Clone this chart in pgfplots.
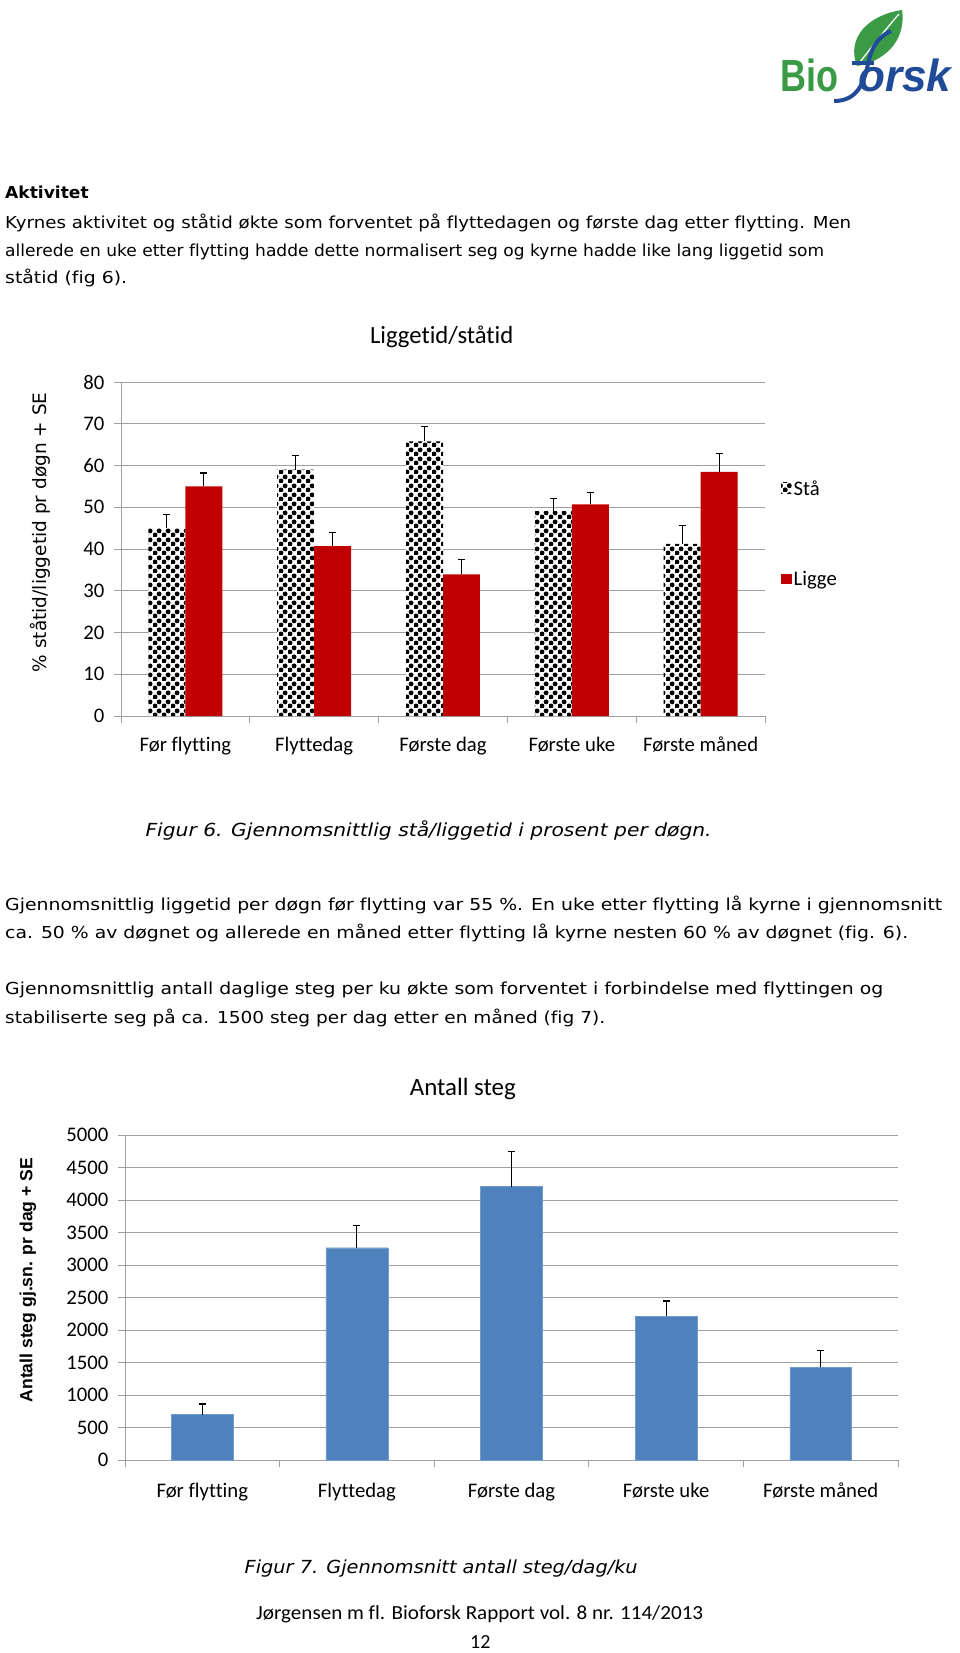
\documentclass[border=0pt]{standalone}
\usepackage{graphicx}
\usepackage{fontspec}
\setmainfont{Carlito}[Ligatures={NoCommon,NoContextual}]
\newfontfamily\dejavu{DejaVu Sans}[Ligatures={NoCommon,NoContextual}]
\newfontfamily\libsans{Liberation Sans}[Ligatures={NoCommon,NoContextual}]
\usepackage{pgfplots}
\pgfplotsset{compat=1.18}
\usetikzlibrary{patterns.meta}
\definecolor{ligge}{HTML}{C00000}
\definecolor{steg}{HTML}{4F81BD}
\definecolor{gridc}{HTML}{A0A0A0}
\definecolor{biogreen}{HTML}{3A9A45}
\definecolor{bioblue}{HTML}{1F4B99}
\tikzdeclarepattern{
  name=stadots, type=uncolored,
  bounding box={(0pt,0pt) and (9pt,9pt)},
  tile size={(9pt,9pt)},
  code={\fill (2.25pt,2.25pt) circle (2.7pt); \fill (6.75pt,6.75pt) circle (2.7pt);}
}
\newcommand{\body}{\dejavu\fontsize{16.5}{20}\selectfont}
% fit a line of text to a given width (in px = pt) by horizontal scaling
\newcommand{\fitw}[2]{\setbox0\hbox{#2}\pgfmathsetmacro\fitsc{#1/\the\wd0}\scalebox{\fitsc}[1]{\box0}}
\begin{document}
\begin{tikzpicture}
\path[use as bounding box] (0,0) rectangle (960pt,-1653pt);
% ---- logo ----
\fill[biogreen] (857pt,-66pt) .. controls (846pt,-38pt) and (868pt,-15pt) .. (902pt,-10pt)
   .. controls (906pt,-36pt) and (890pt,-60pt) .. (857pt,-66pt) -- cycle;
\draw[white, line width=1.3pt] (860pt,-62pt) .. controls (874pt,-44pt) and (886pt,-29pt) .. (899pt,-14pt);
\draw[bioblue, line width=4pt] (834pt,-101pt) .. controls (858pt,-101pt) and (864pt,-82pt) .. (868pt,-64pt)
   .. controls (872pt,-46pt) and (878pt,-37pt) .. (891pt,-31pt);
\draw[bioblue, line width=3.5pt] (852pt,-63pt) -- (874pt,-63pt);
\node[anchor=base west, inner sep=0, xscale=0.8, font=\libsans\bfseries\fontsize{45}{45}\selectfont, text=biogreen] at (780pt,-92pt) {Bio};
\node[anchor=base west, inner sep=0, xscale=0.98, font=\libsans\bfseries\itshape\fontsize{45}{45}\selectfont, text=bioblue] at (858pt,-92pt) {orsk};
% ---- text ----
\node[anchor=base west, inner sep=0, font=\body\bfseries] at (5pt,-199pt) {\fitw{83.5}{Aktivitet}};
\node[anchor=base west, inner sep=0, font=\body] at (5pt,-229pt) {\fitw{846}{Kyrnes aktivitet og ståtid økte som forventet på flyttedagen og første dag etter flytting. Men}};
\node[anchor=base west, inner sep=0, font=\body] at (5pt,-256pt) {\fitw{819}{allerede en uke etter flytting hadde dette normalisert seg og kyrne hadde like lang liggetid som}};
\node[anchor=base west, inner sep=0, font=\body] at (5pt,-283pt) {\fitw{122}{ståtid (fig 6).}};
\node[anchor=base west, inner sep=0, font=\dejavu\itshape\fontsize{18}{20}\selectfont] at (145.4pt,-836pt) {\fitw{566}{Figur 6. Gjennomsnittlig stå/liggetid i prosent per døgn.}};
\node[anchor=base west, inner sep=0, font=\body] at (5pt,-910pt) {\fitw{937}{Gjennomsnittlig liggetid per døgn før flytting var 55 \%. En uke etter flytting lå kyrne i gjennomsnitt}};
\node[anchor=base west, inner sep=0, font=\body] at (5pt,-938pt) {\fitw{903}{ca. 50 \% av døgnet og allerede en måned etter flytting lå kyrne nesten 60 \% av døgnet (fig. 6).}};
\node[anchor=base west, inner sep=0, font=\body] at (5pt,-994pt) {\fitw{878}{Gjennomsnittlig antall daglige steg per ku økte som forventet i forbindelse med flyttingen og}};
\node[anchor=base west, inner sep=0, font=\body] at (5pt,-1023pt) {\fitw{600}{stabiliserte seg på ca. 1500 steg per dag etter en måned (fig 7).}};
\node[anchor=base west, inner sep=0, font=\dejavu\itshape\fontsize{18}{20}\selectfont] at (244.5pt,-1573pt) {\fitw{393}{Figur 7. Gjennomsnitt antall steg/dag/ku}};
\node[anchor=base west, inner sep=0, font=\fontsize{20}{22}\selectfont] at (256pt,-1619pt) {\fitw{447}{Jørgensen m fl. Bioforsk Rapport vol. 8 nr. 114/2013}};
\node[anchor=base west, inner sep=0, font=\fontsize{20}{22}\selectfont] at (470pt,-1648pt) {12};
% ---- chart 1 ----
\begin{axis}[
  at={(121pt,-716pt)}, anchor=south west, scale only axis,
  width=644pt, height=334pt,
  xmin=-0.5, xmax=4.5, ymin=0, ymax=80, enlargelimits=false,
  axis lines=left, axis line style={gridc, line width=0.8pt, -},
  ytick={0,10,...,80}, ymajorgrids, grid style={gridc, line width=0.9pt},
  xtick={-0.5,0.5,1.5,2.5,3.5,4.5},
  xticklabels={Før flytting,Flyttedag,Første dag,Første uke,Første måned,{}},
  xticklabel style={xshift=64.4pt, yshift=-10pt, text height=15pt, text depth=5pt},
  yticklabel style={xshift=-6pt},
  tick align=outside, major tick length=7pt, tick style={gridc, line width=0.8pt},
  ticklabel style={font=\fontsize{20.7}{24}\selectfont},
  /pgf/number format/assume math mode=true,
  title={Liggetid/ståtid},
  title style={at={(0.498,1.116)}, anchor=center, font=\fontsize{24.7}{28}\selectfont},
  ylabel={\% ståtid/liggetid pr døgn + SE},
  ylabel style={at={(-0.126,0.55)}, anchor=center, font=\dejavu\fontsize{18.5}{22}\selectfont},
  legend image code/.code={\path[#1] (0pt,-5pt) rectangle (10.5pt,5.5pt);},
  legend cell align=left,
  legend style={at={(1.02,0.718)}, anchor=north west, draw=none, fill=none,
    font=\fontsize{20.7}{24}\selectfont, row sep=71pt},
]
\addplot[ybar, bar width=0.287, bar shift=0, fill=white, draw=none,
  postaction={pattern=stadots, pattern color=black},
  error bars/.cd, y dir=plus, y explicit,
  error bar style={black, line width=1.1pt},
  error mark options={rotate=90, black, mark size=3.5pt, line width=1.1pt}]
  coordinates {(-0.1435,45.0) +- (0,3.3) (0.8565,59.0) +- (0,3.5) (1.8565,65.8) +- (0,3.6) (2.8565,49.1) +- (0,3.0) (3.8565,41.2) +- (0,4.5)};
\addlegendentry{Stå}
\addplot[ybar, bar width=0.287, bar shift=0, fill=ligge, draw=none,
  error bars/.cd, y dir=plus, y explicit,
  error bar style={black, line width=1.1pt},
  error mark options={rotate=90, black, mark size=3.5pt, line width=1.1pt}]
  coordinates {(0.1435,55.0) +- (0,3.2) (1.1435,40.7) +- (0,3.3) (2.1435,33.9) +- (0,3.6) (3.1435,50.7) +- (0,2.9) (4.1435,58.5) +- (0,4.4)};
\addlegendentry{Ligge}
\end{axis}
% ---- chart 2 ----
\begin{axis}[
  at={(125pt,-1460.3pt)}, anchor=south west, scale only axis,
  width=773pt, height=325.3pt,
  xmin=-0.5, xmax=4.5, ymin=0, ymax=5000, enlargelimits=false,
  axis lines=left, axis line style={gridc, line width=0.8pt, -},
  ytick={0,500,...,5000}, ymajorgrids, grid style={gridc, line width=0.9pt},
  xtick={-0.5,0.5,1.5,2.5,3.5,4.5},
  xticklabels={Før flytting,Flyttedag,Første dag,Første uke,Første måned,{}},
  xticklabel style={xshift=77.3pt, yshift=-12pt, text height=15pt, text depth=5pt},
  yticklabel style={xshift=-6pt, /pgf/number format/1000 sep={}},
  tick align=outside, major tick length=7pt, tick style={gridc, line width=0.8pt},
  ticklabel style={font=\fontsize{20.7}{24}\selectfont},
  /pgf/number format/assume math mode=true,
  title={Antall steg},
  title style={at={(0.437,1.123)}, anchor=center, font=\fontsize{24.9}{28}\selectfont},
  ylabel={Antall steg gj.sn. pr dag + SE},
  ylabel style={at={(-0.1255,0.554)}, anchor=center, font=\libsans\bfseries\fontsize{17.6}{20}\selectfont},
]
\addplot[ybar, bar width=0.4, bar shift=0, fill=steg, draw=steg!80!white,
  error bars/.cd, y dir=plus, y explicit,
  error bar style={black, line width=1.1pt},
  error mark options={rotate=90, black, mark size=3.5pt, line width=1.1pt}]
  coordinates {(0,702) +- (0,164) (1,3268) +- (0,339) (2,4206) +- (0,538) (3,2213) +- (0,236) (4,1429) +- (0,262)};
\end{axis}
\end{tikzpicture}
\end{document}
